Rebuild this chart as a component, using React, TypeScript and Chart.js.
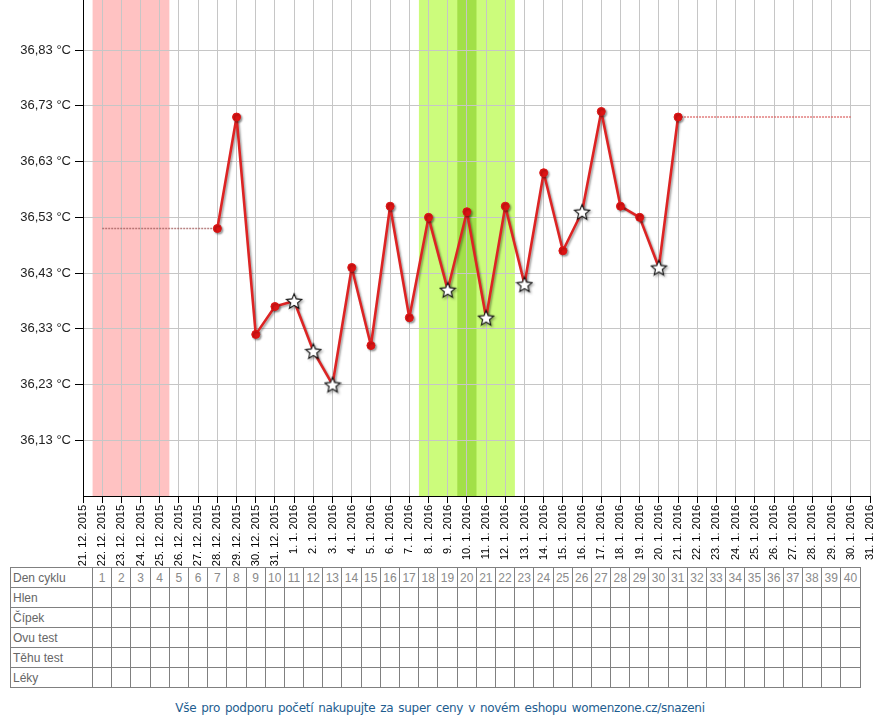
import React, { useEffect, useRef } from 'react';
import { Chart, registerables } from 'chart.js';

Chart.register(...registerables);

const dateLabels = [
  '21. 12. 2015', '22. 12. 2015', '23. 12. 2015', '24. 12. 2015', '25. 12. 2015',
  '26. 12. 2015', '27. 12. 2015', '28. 12. 2015', '29. 12. 2015', '30. 12. 2015',
  '31. 12. 2015', '1. 1. 2016', '2. 1. 2016', '3. 1. 2016', '4. 1. 2016',
  '5. 1. 2016', '6. 1. 2016', '7. 1. 2016', '8. 1. 2016', '9. 1. 2016',
  '10. 1. 2016', '11. 1. 2016', '12. 1. 2016', '13. 1. 2016', '14. 1. 2016',
  '15. 1. 2016', '16. 1. 2016', '17. 1. 2016', '18. 1. 2016', '19. 1. 2016',
  '20. 1. 2016', '21. 1. 2016', '22. 1. 2016', '23. 1. 2016', '24. 1. 2016',
  '25. 1. 2016', '26. 1. 2016', '27. 1. 2016', '28. 1. 2016', '29. 1. 2016',
  '30. 1. 2016', '31. 1. 2016',
];

const tempDays = [7, 8, 9, 10, 11, 12, 13, 14, 15, 16, 17, 18, 19, 20, 21, 22, 23, 24, 25, 26, 27, 28, 29, 30, 31];
const temps = [
  36.51, 36.71, 36.32, 36.37, 36.38, 36.29, 36.23, 36.44, 36.30, 36.55,
  36.35, 36.53, 36.40, 36.54, 36.35, 36.55, 36.41, 36.61, 36.47, 36.54,
  36.72, 36.55, 36.53, 36.44, 36.71,
];
const starDays = [11, 12, 13, 19, 21, 23, 26, 30];

const preDays = [1, 7];
const preTemps = [36.51, 36.51];
const postDays = [31, 40];
const postTemps = [36.71, 36.71];

const yTicks = [36.13, 36.23, 36.33, 36.43, 36.53, 36.63, 36.73, 36.83];
const yMin = 36.03;
const yMax = 36.92;

const menstruationDays = [1, 2, 3, 4];
const fertileDays = [18, 19, 20, 21, 22];
const ovulationDays = [20];

const cycleDays = [
  1, 2, 3, 4, 5, 6, 7, 8, 9, 10, 11, 12, 13, 14, 15, 16, 17, 18, 19, 20,
  21, 22, 23, 24, 25, 26, 27, 28, 29, 30, 31, 32, 33, 34, 35, 36, 37, 38, 39, 40,
];
const tableRows = ['Den cyklu', 'Hlen', 'Čípek', 'Ovu test', 'Těhu test', 'Léky'];
const footerText = 'Vše pro podporu početí nakupujte za super ceny v novém eshopu womenzone.cz/snazeni';

const FONT = '"Liberation Sans", Arial, sans-serif';

function makeStar(): HTMLCanvasElement {
  const size = 18;
  const c = document.createElement('canvas');
  c.width = size;
  c.height = size;
  const g = c.getContext('2d')!;
  const cx = size / 2;
  const cy = size / 2 + 0.8;
  const R = 8;
  const r = 3.6;
  g.beginPath();
  for (let i = 0; i < 10; i++) {
    const a = -Math.PI / 2 + (i * Math.PI) / 5;
    const rad = i % 2 ? r : R;
    g.lineTo(cx + rad * Math.cos(a), cy + rad * Math.sin(a));
  }
  g.closePath();
  g.fillStyle = '#ffffff';
  g.fill();
  g.lineWidth = 1.1;
  g.strokeStyle = '#111111';
  g.stroke();
  return c;
}

const bandsPlugin = {
  id: 'bands',
  beforeDraw(chart: any) {
    const { ctx, chartArea, scales } = chart;
    const xs = scales.x;
    const drawBand = (days: number[], color: string) => {
      const x0 = xs.getPixelForValue(Math.min(...days) - 0.5);
      const x1 = xs.getPixelForValue(Math.max(...days) + 0.5);
      ctx.save();
      ctx.fillStyle = color;
      ctx.fillRect(x0, chartArea.top, x1 - x0, chartArea.bottom - chartArea.top);
      ctx.restore();
    };
    drawBand(menstruationDays, '#ffc2c2');
    drawBand(fertileDays, '#ccfc7c');
    drawBand(ovulationDays, '#a2e048');
  },
};

const shadowPlugin = {
  id: 'lineShadow',
  beforeDatasetDraw(chart: any, args: any) {
    if (args.index !== 0) return;
    const ctx = chart.ctx;
    ctx.save();
    ctx.shadowColor = 'rgba(0,0,0,0.35)';
    ctx.shadowBlur = 2;
    ctx.shadowOffsetX = 1.5;
    ctx.shadowOffsetY = 1.5;
  },
  afterDatasetDraw(chart: any, args: any) {
    if (args.index !== 0) return;
    chart.ctx.restore();
  },
};

function ChartCanvas() {
  const ref = useRef<HTMLCanvasElement>(null);
  useEffect(() => {
    const star = makeStar();
    const mainData = tempDays.map((d, i) => ({ x: d, y: temps[i] }));
    const styles = tempDays.map((d) => (starDays.includes(d) ? star : 'circle'));
    const chart = new Chart(ref.current!, {
      type: 'line',
      data: {
        datasets: [
          {
            data: mainData,
            borderColor: '#dd2424',
            borderWidth: 2.6,
            borderJoinStyle: 'round',
            pointStyle: styles as any,
            pointRadius: 4,
            pointBackgroundColor: '#dd1414',
            pointBorderColor: '#dd1414',
            pointBorderWidth: 1,
            tension: 0,
          },
          {
            data: preDays.map((d, i) => ({ x: d, y: preTemps[i] })),
            borderColor: 'rgba(160,90,90,0.75)',
            borderWidth: 1.6,
            borderDash: [2, 1],
            pointRadius: 0,
          },
          {
            data: postDays.map((d, i) => ({ x: d, y: postTemps[i] })),
            borderColor: 'rgba(215,80,80,0.75)',
            borderWidth: 1.6,
            borderDash: [2, 1],
            pointRadius: 0,
          },
        ],
      },
      options: {
        animation: false,
        responsive: false,
        maintainAspectRatio: false,
        events: [],
        layout: { autoPadding: false, padding: { left: 0, right: 10, top: 0, bottom: 0 } },
        plugins: { legend: { display: false }, tooltip: { enabled: false } },
        scales: {
          x: {
            type: 'linear',
            min: 0,
            max: dateLabels.length - 1,
            afterBuildTicks: (s: any) => {
              s.ticks = dateLabels.map((_, i) => ({ value: i }));
            },
            afterFit: (s: any) => {
              s.height = 71;
              s.paddingLeft = 0;
              s.paddingRight = 0;
            },
            ticks: {
              autoSkip: false,
              maxRotation: 90,
              minRotation: 90,
              padding: 2,
              color: '#000',
              font: { family: FONT, size: 11 },
              callback: (_v: any, i: number) => dateLabels[i],
            },
            grid: { color: '#c6c6c6', tickColor: '#000', tickLength: 7, lineWidth: 1 },
            border: { color: '#000', width: 1 },
          },
          y: {
            type: 'linear',
            min: yMin,
            max: yMax,
            afterBuildTicks: (s: any) => {
              s.ticks = yTicks.map((v) => ({ value: v }));
            },
            afterFit: (s: any) => {
              s.width = 83;
              s.paddingTop = 0;
              s.paddingBottom = 0;
            },
            ticks: {
              padding: 4,
              color: '#222',
              font: { family: FONT, size: 13 },
              callback: (v: any) => Number(v).toFixed(2).replace('.', ',') + ' °C',
            },
            grid: { color: '#c6c6c6', tickColor: '#000', tickLength: 8, lineWidth: 1 },
            border: { color: '#000', width: 1 },
          },
        },
      } as any,
      plugins: [bandsPlugin, shadowPlugin],
    });
    return () => chart.destroy();
  }, []);
  return <canvas ref={ref} width={880} height={567} style={{ display: 'block', width: 880, height: 567 }} />;
}

export default function App() {
  const cellBorder = '1px solid #808080';
  const colW = (850 - 82) / cycleDays.length;
  return (
    <div style={{ position: 'absolute', left: 0, top: 0, width: 880, height: 720, background: '#fff', overflow: 'hidden' }}>
      <ChartCanvas />
      <table
        style={{
          position: 'absolute',
          left: 10,
          top: 567,
          width: 850,
          borderCollapse: 'collapse',
          tableLayout: 'fixed',
          fontFamily: FONT,
          fontSize: 12,
        }}
      >
        <colgroup>
          <col style={{ width: 82 }} />
          {cycleDays.map((d) => (
            <col key={d} style={{ width: colW }} />
          ))}
        </colgroup>
        <tbody>
          {tableRows.map((row, ri) => (
            <tr key={row} style={{ height: 20 }}>
              <td style={{ border: cellBorder, padding: '0 0 0 2px', color: '#666', height: 19, whiteSpace: 'nowrap', overflow: 'hidden' }}>{row}</td>
              {cycleDays.map((d) => (
                <td key={d} style={{ border: cellBorder, padding: 0, textAlign: 'center', color: '#8a8a8a', height: 19, overflow: 'hidden', whiteSpace: 'nowrap' }}>
                  {ri === 0 ? d : ''}
                </td>
              ))}
            </tr>
          ))}
        </tbody>
      </table>
      <div
        style={{
          position: 'absolute',
          left: 0,
          top: 700,
          width: 880,
          textAlign: 'center',
          color: '#1e5d8f',
          fontFamily: '"DejaVu Sans", Verdana, sans-serif',
          fontSize: 12,
          letterSpacing: -0.3,
          wordSpacing: 1.5,
          lineHeight: '16px',
        }}
      >
        {footerText}
      </div>
    </div>
  );
}
